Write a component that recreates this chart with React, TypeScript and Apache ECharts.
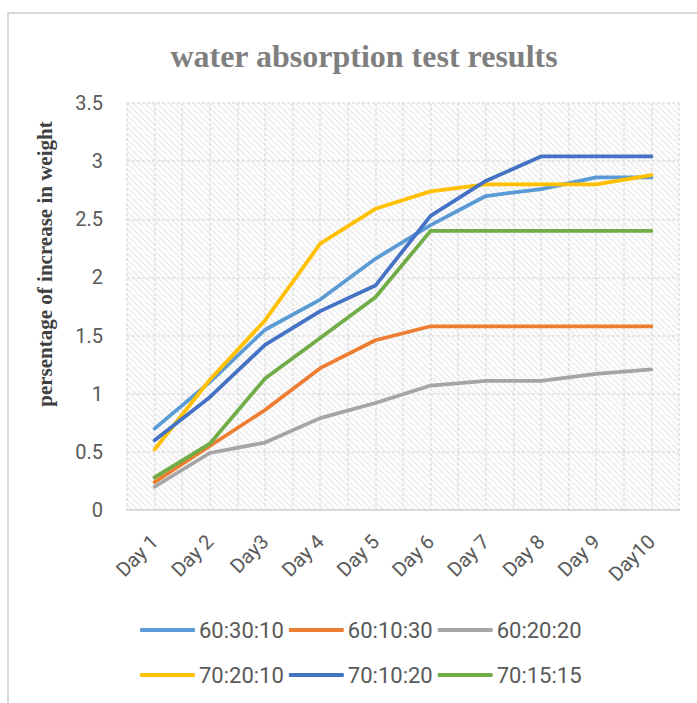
import React, { useEffect, useRef } from "react";
import * as echarts from "echarts";

const categories = ["Day 1", "Day 2", "Day3", "Day 4", "Day 5", "Day 6", "Day 7", "Day 8", "Day 9", "Day10"];
const seriesNames = ["60:30:10", "60:10:30", "60:20:20", "70:20:10", "70:10:20", "70:15:15"];
const s603010 = [0.70, 1.10, 1.55, 1.81, 2.16, 2.45, 2.70, 2.76, 2.86, 2.86];
const s601030 = [0.24, 0.55, 0.86, 1.22, 1.46, 1.58, 1.58, 1.58, 1.58, 1.58];
const s602020 = [0.20, 0.49, 0.58, 0.79, 0.92, 1.07, 1.11, 1.11, 1.17, 1.21];
const s702010 = [0.52, 1.12, 1.63, 2.29, 2.59, 2.74, 2.80, 2.80, 2.80, 2.88];
const s701020 = [0.60, 0.97, 1.42, 1.71, 1.93, 2.53, 2.83, 3.04, 3.04, 3.04];
const s701515 = [0.28, 0.57, 1.13, 1.48, 1.83, 2.40, 2.40, 2.40, 2.40, 2.40];
const seriesValues = [s603010, s601030, s602020, s702010, s701020, s701515];
const seriesColors = ["#5B9BD5", "#ED7D31", "#A5A5A5", "#FFC000", "#4472C4", "#70AD47"];
const halfCategories = Array.from({ length: 20 }, () => "");

function makeHatch() {
  const c = document.createElement("canvas");
  c.width = 6;
  c.height = 6;
  const ctx = c.getContext("2d");
  if (ctx) {
    ctx.fillStyle = "#fdfdfd";
    ctx.fillRect(0, 0, 6, 6);
    ctx.strokeStyle = "#ededed";
    ctx.lineWidth = 1.5;
    for (let k = -6; k <= 12; k += 6) {
      ctx.beginPath();
      ctx.moveTo(k, 0);
      ctx.lineTo(k + 6, 6);
      ctx.stroke();
    }
  }
  return c;
}

export default function App() {
  const ref = useRef<HTMLDivElement>(null);
  useEffect(() => {
    if (!ref.current) return;
    const chart = echarts.init(ref.current, null, { renderer: "svg" });
    let bg: any = "#f5f5f5";
    try {
      bg = { image: makeHatch(), repeat: "repeat" };
    } catch (e) {
      bg = "#f5f5f5";
    }
    const labelFont = "Roboto";
    const legendCommon = {
      left: 140,
      padding: 0,
      itemGap: 5,
      itemWidth: 55,
      itemHeight: 4,
      icon: "roundRect",
      textStyle: { fontFamily: labelFont, fontSize: 22, color: "#595959", padding: [0, 0, 0, -1] },
    };
    chart.setOption({
      animation: false,
      backgroundColor: "#ffffff",
      title: {
        text: "water absorption test results",
        left: 359,
        top: 35,
        textAlign: "center",
        textStyle: {
          fontFamily: "Liberation Serif",
          fontWeight: "bold",
          fontSize: 32,
          color: "#7f7f7f",
        },
      },
      graphic: [
        {
          type: "rect",
          shape: { x: 8, y: 13, width: 720, height: 720 },
          style: { fill: "none", stroke: "#d9d9d9", lineWidth: 2 },
          silent: true,
          z: -10,
        },
        {
          type: "text",
          x: 45,
          y: 264,
          rotation: Math.PI / 2,
          style: {
            text: "persentage of increase in weight",
            fontFamily: "Liberation Serif",
            fontWeight: "bold",
            fontSize: 21,
            fill: "#404040",
            textAlign: "center",
            textVerticalAlign: "middle",
          },
        },
      ],
      legend: [
        { ...legendCommon, data: seriesNames.slice(0, 3), top: 619 },
        { ...legendCommon, data: seriesNames.slice(3, 6), top: 664 },
      ],
      grid: {
        left: 127,
        right: 18,
        top: 103,
        bottom: 193,
        show: true,
        backgroundColor: bg,
        borderWidth: 0,
      },
      xAxis: [
        {
          type: "category",
          data: categories,
          boundaryGap: true,
          axisLine: { show: true, lineStyle: { color: "#d9d9d9", width: 2 } },
          axisTick: { show: false },
          splitLine: { show: false },
          axisLabel: {
            rotate: 45,
            interval: 0,
            margin: 28,
            fontFamily: labelFont,
            fontSize: 20,
            color: "#595959",
          },
          z: 5,
        },
        {
          type: "category",
          data: halfCategories,
          boundaryGap: true,
          position: "bottom",
          axisLine: { show: false },
          axisTick: { show: false },
          axisLabel: { show: false },
          splitLine: {
            show: true,
            interval: 0,
            lineStyle: { color: "#e0e0e0", width: 1.5, type: [3, 2] },
          },
        },
      ],
      yAxis: {
        type: "value",
        min: 0,
        max: 3.5,
        interval: 0.5,
        axisLine: { show: false },
        axisTick: { show: false },
        axisLabel: {
          margin: 24,
          fontFamily: labelFont,
          fontSize: 20,
          color: "#595959",
        },
        splitLine: { show: true, lineStyle: { color: "#e0e0e0", width: 1.5, type: [3, 2] } },
      },
      series: seriesNames.map((name, i) => ({
        name,
        type: "line",
        data: seriesValues[i],
        xAxisIndex: 0,
        symbol: "none",
        color: seriesColors[i],
        lineStyle: { width: 3.75, color: seriesColors[i], cap: "round", join: "round" },
        z: 10 + i,
      })),
    });
    return () => chart.dispose();
  }, []);
  return (
    <div
      ref={ref}
      style={{ position: "absolute", left: 0, top: 0, width: 697, height: 703 }}
    />
  );
}
